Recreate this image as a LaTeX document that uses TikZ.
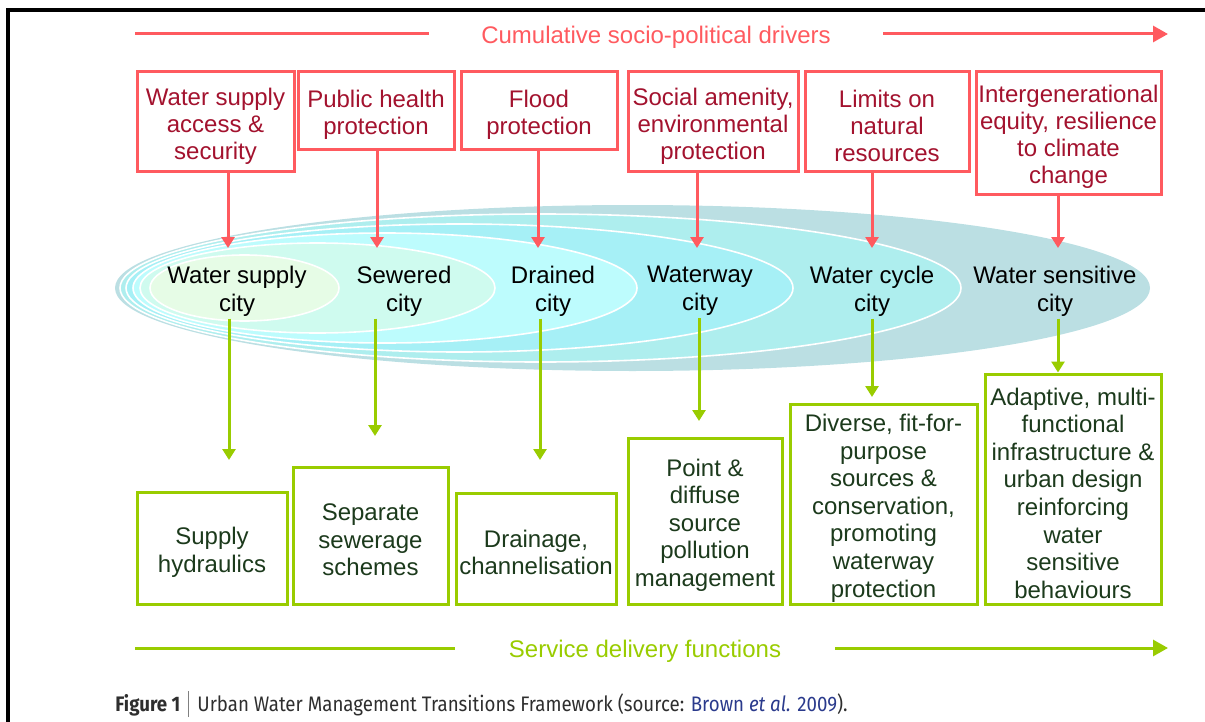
\documentclass[tikz,border=0pt]{standalone}
\usepackage{fontspec}
\setmainfont{Liberation Sans}
\newfontfamily\capfont[FakeStretch=0.89]{Fira Sans}
\usetikzlibrary{arrows.meta}
\usetikzlibrary{positioning}

\definecolor{drvline}{HTML}{FF5A5F}
\definecolor{drvtext}{HTML}{A3122E}
\definecolor{srvline}{HTML}{99CC00}
\definecolor{srvtext}{HTML}{1C3A1C}
\definecolor{capblue}{HTML}{2A3A8C}
\definecolor{captext}{HTML}{2E2E2E}
\definecolor{ringsix}{HTML}{BBDFE3}
\definecolor{ringfive}{HTML}{AEEEEE}
\definecolor{ringfour}{HTML}{A6F0F6}
\definecolor{ringthree}{HTML}{BDFCFD}
\definecolor{ringtwo}{HTML}{CFFBEF}
\definecolor{ringone}{HTML}{E6FCE6}

% top strut, pushes box text down a little
\newcommand{\tstrut}{\rule{0pt}{12.8pt}}

\begin{document}
\begin{tikzpicture}[x=.5pt,y=-.5pt,
            font=\fontsize{12}{13.5}\selectfont,
            driver/.style = {draw=drvline,line width=1.5pt,fill=white,
                align=center,text=drvtext,inner sep=0pt},
            service/.style = {draw=srvline,line width=1.5pt,fill=white,
                align=center,text=srvtext,inner sep=0pt,
                font=\fontsize{12}{13.8}\selectfont},
            city/.style = {align=center,inner sep=1pt,
                font=\fontsize{12}{14}\selectfont},
            ring/.style = {draw=white,line width=.8pt},
            redarrow/.style = {draw=drvline,line width=1.5pt,
                -{Triangle[length=5.5pt,width=6.5pt]}},
            greenarrow/.style = {draw=srvline,line width=1.5pt,
                -{Triangle[length=5.5pt,width=6.5pt]}},
            banner/.style = {inner ysep=0pt,font=\fontsize{12}{14}\selectfont}]
            \useasboundingbox (0,0) rectangle (1205,722);
            % frame
            \draw[line width=1.75pt] (8,722) -- (8,10) -- (1205,10);
            % drivers banner
            \node[banner,text=drvline,inner xsep=26pt] (drivers) at (656,37)
                {Cumulative socio-political drivers};
            \coordinate (dleft) at (135,34);
            \coordinate (dright) at (1168,34);
            \draw[drvline,line width=1.5pt] (dleft) -- (drivers.west |- dleft);
            \draw[drvline,line width=1.5pt,-{Triangle[length=7.5pt,width=8pt]}]
                (drivers.east |- dright) -- (dright);
            % nested city rings
            \fill[ringsix] (632.5,288) ellipse [x radius=517.5,y radius=83];
            \path[ring,fill=ringfive] (540.5,288) ellipse [x radius=420.5,y radius=74];
            \path[ring,fill=ringfour] (459.5,288) ellipse [x radius=333.5,y radius=64];
            \path[ring,fill=ringthree] (385,288) ellipse [x radius=252,y radius=55];
            \path[ring,fill=ringtwo] (317.5,288) ellipse [x radius=177.5,y radius=45];
            \path[ring,fill=ringone] (244.5,288) ellipse [x radius=94.5,y radius=33];
            % cities
            \node[city] (c1) at (237,291) {Water supply\\city};
            \node[city] (c2) at (404,291) {Sewered\\city};
            \node[city] (c3) at (553,291) {Drained\\city};
            \node[city] (c4) at (700,291) {Waterway\\city};
            \node[city] (c5) at (872,291) {Water cycle\\city};
            \node[city] (c6) at (1055,291) {Water sensitive\\city};
            % drivers
            \node[driver,minimum width=157*.5pt,minimum height=100*.5pt] (d1)
                at (215.5,122) {\tstrut Water supply\\access \&\\security};
            \node[driver,minimum width=156*.5pt,minimum height=78*.5pt] (d2)
                at (376,111) {\tstrut Public health\\protection};
            \node[driver,minimum width=156*.5pt,minimum height=78*.5pt] (d3)
                at (539,111) {\tstrut Flood\\protection};
            \node[driver,minimum width=170*.5pt,minimum height=100*.5pt] (d4)
                at (713,122) {\tstrut Social amenity,\\environmental\\protection};
            \node[driver,minimum width=164*.5pt,minimum height=100*.5pt] (d5)
                at (887,122) {\tstrut Limits on\\natural\\resources};
            \node[driver,minimum width=185*.5pt,minimum height=122*.5pt] (d6)
                at (1068.5,133) {\tstrut Intergenerational\\equity, resilience\\to climate\\change};
            % services
            \node[service,minimum width=150*.5pt,minimum height=112*.5pt] (s1)
                at (212,548) {\tstrut Supply\\hydraulics};
            \node[service,minimum width=155*.5pt,minimum height=137*.5pt] (s2)
                at (370.5,535.5) {\tstrut Separate\\sewerage\\schemes};
            \node[service,minimum width=160*.5pt,minimum height=111*.5pt] (s3)
                at (536,548.5) {\tstrut Drainage,\\channelisation};
            \node[service,minimum width=154*.5pt,minimum height=166*.5pt] (s4)
                at (705,521) {\tstrut Point \&\\diffuse\\source\\pollution\\management};
            \node[service,minimum width=187*.5pt,minimum height=200*.5pt] (s5)
                at (883.5,504) {\tstrut Diverse, fit-for-\\purpose\\sources \&\\conservation,\\promoting\\waterway\\protection};
            \node[service,minimum width=176*.5pt,minimum height=230*.5pt] (s6)
                at (1073,489) {\tstrut Adaptive, multi-\\functional\\infrastructure \&\\urban design\\reinforcing\\water\\sensitive\\behaviours};
            % driver arrows
            \coordinate (r1) at (228,248);
            \coordinate (r2) at (377,248);
            \coordinate (r3) at (538,248);
            \coordinate (r4) at (697,248);
            \coordinate (r5) at (872,248);
            \coordinate (r6) at (1058,248);
            \draw[redarrow] (d1.south -| r1) -- (r1);
            \draw[redarrow] (d2.south -| r2) -- (r2);
            \draw[redarrow] (d3.south -| r3) -- (r3);
            \draw[redarrow] (d4.south -| r4) -- (r4);
            \draw[redarrow] (d5.south -| r5) -- (r5);
            \draw[redarrow] (d6.south -| r6) -- (r6);
            % service arrows
            \coordinate (g1) at (229,460);
            \coordinate (g2) at (375,436);
            \coordinate (g3) at (540,460);
            \coordinate (g4) at (699,421);
            \coordinate (g5) at (872,397);
            \coordinate (g6) at (1058,374);
            \draw[greenarrow] (c1.south -| g1) -- (g1);
            \draw[greenarrow] (c2.south -| g2) -- (g2);
            \draw[greenarrow] (c3.south -| g3) -- (g3);
            \draw[greenarrow] (c4.south -| g4) -- (g4);
            \draw[greenarrow] (c5.south -| g5) -- (g5);
            \draw[greenarrow] (c6.south -| g6) -- (s6.north -| g6);
            % service banner
            \node[banner,text=srvline,inner xsep=27pt] (services) at (645,651)
                {Service delivery functions};
            \coordinate (sleft) at (135,648);
            \coordinate (sright) at (1168,648);
            \draw[srvline,line width=1.5pt] (sleft) -- (services.west |- sleft);
            \draw[srvline,line width=1.5pt,-{Triangle[length=7.5pt,width=8pt]}]
                (services.east |- sright) -- (sright);
            % caption
            \node[anchor=base west,inner sep=0pt,text=captext,
                font=\capfont\fontsize{10.5}{12}\selectfont] (caption) at (115,711)
                {\textbf{Figure 1}\hspace{4pt}{\color{gray}\rule[-3pt]{.5pt}{13pt}}\hspace{4pt}Urban Water Management Transitions Framework (source: \textcolor{capblue}{Brown \textit{et al.} 2009}).};
        \end{tikzpicture}
\end{document}
